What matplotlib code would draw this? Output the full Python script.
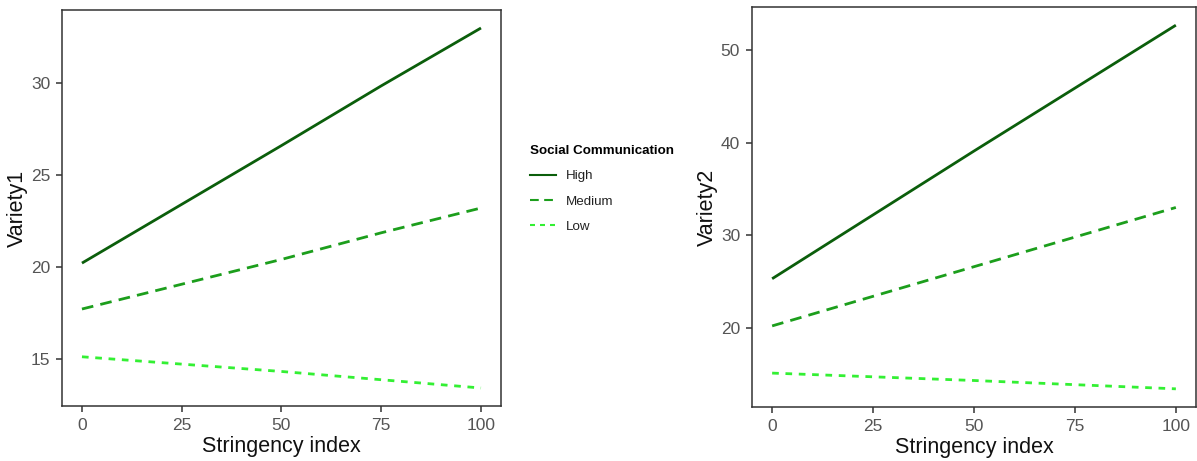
import matplotlib
matplotlib.use("Agg")
import matplotlib.pyplot as plt
from matplotlib.lines import Line2D

plt.rcParams['font.family'] = ['Liberation Sans', 'DejaVu Sans']

# stringency index and predicted values for each level of social communication
x = [0, 25, 50, 75, 100]
levels = ["High", "Medium", "Low"]

variety1_high = [20.2, 23.4, 26.6, 29.85, 33.0]
variety1_medium = [17.7, 19.05, 20.4, 21.85, 23.2]
variety1_low = [15.1, 14.7, 14.3, 13.85, 13.4]

variety2_high = [25.3, 32.2, 39.1, 45.9, 52.7]
variety2_medium = [20.2, 23.4, 26.6, 29.8, 33.0]
variety2_low = [15.1, 14.7, 14.3, 13.85, 13.4]

colors = {"High": "#0b5e0b", "Medium": "#1c9e1c", "Low": "#33f033"}
dashes = {"High": (None, None), "Medium": (4.2, 2.6), "Low": (2.4, 2.4)}

fig = plt.figure(figsize=(11.97, 4.61), dpi=100)
ax1 = fig.add_axes([0.0518, 0.1193, 0.3667, 0.859])
ax2 = fig.add_axes([0.6282, 0.1171, 0.371, 0.8677])


def draw(ax, series, ylabel, yticks):
    for lev, y in zip(levels, series):
        ln, = ax.plot(x, y, color=colors[lev], lw=2.0, solid_capstyle='butt',
                      dash_capstyle='butt')
        if dashes[lev][0] is not None:
            ln.set_dashes(dashes[lev])
    lo = min(min(s) for s in series)
    hi = max(max(s) for s in series)
    pad = (hi - lo) * 0.05
    ax.set_ylim(lo - pad, hi + pad)
    ax.set_xlim(-5, 105)
    ax.set_xticks([0, 25, 50, 75, 100])
    ax.set_yticks(yticks)
    for s in ax.spines.values():
        s.set_color('#333333')
        s.set_linewidth(1.1)
    ax.tick_params(direction='out', length=4.5, width=1.1, color='#333333',
                   labelsize=12.5, labelcolor='#555555', pad=4)
    ax.set_xlabel("Stringency index", fontsize=15.5, color='#111111', labelpad=2)
    ax.set_ylabel(ylabel, fontsize=15.5, color='#111111', labelpad=2)


draw(ax1, [variety1_high, variety1_medium, variety1_low], "Variety1", [15, 20, 25, 30])
draw(ax2, [variety2_high, variety2_medium, variety2_low], "Variety2", [20, 30, 40, 50])

handles = []
for lev in levels:
    h = Line2D([0], [0], color=colors[lev], lw=1.5)
    if dashes[lev][0] is not None:
        h.set_dashes(dashes[lev])
    handles.append(h)
leg = fig.legend(handles, levels, title="Social Communication",
                 loc='upper left', bbox_to_anchor=(0.433, 0.711),
                 frameon=False, fontsize=9.6, title_fontsize=9.6,
                 handlelength=1.9, handletextpad=0.8, labelspacing=0.97,
                 alignment='left')
leg.get_title().set_fontweight('bold')
for t in leg.get_texts():
    t.set_color('#222222')

fig.savefig("out.png", dpi=100)
